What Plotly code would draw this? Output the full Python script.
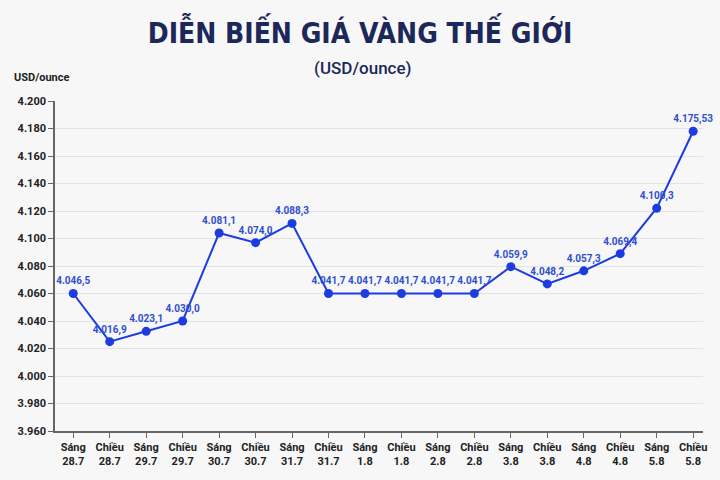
import plotly.graph_objects as go

sessions = ["Sáng", "Chiều"] * 9
dates = ["28.7", "28.7", "29.7", "29.7", "30.7", "30.7", "31.7", "31.7", "1.8", "1.8",
         "2.8", "2.8", "3.8", "3.8", "4.8", "4.8", "5.8", "5.8"]
categories = [f"{s}<br>{d}" for s, d in zip(sessions, dates)]

# plotted positions as drawn in the reference
values = [4060, 4025, 4032.5, 4040, 4104, 4097, 4111, 4060, 4060, 4060,
          4060, 4060, 4079.5, 4067, 4076.5, 4089, 4122, 4178]
# printed labels
labels = ["4.046,5", "4.016,9", "4.023,1", "4.030,0", "4.081,1", "4.074,0", "4.088,3",
          "4.041,7", "4.041,7", "4.041,7", "4.041,7", "4.041,7", "4.059,9", "4.048,2",
          "4.057,3", "4.069,4", "4.100,3", "4.175,53"]

y_ticks = [3960, 3980, 4000, 4020, 4040, 4060, 4080, 4100, 4120, 4140, 4160, 4180, 4200]
y_tick_text = ["3.960", "3.980", "4.000", "4.020", "4.040", "4.060", "4.080", "4.100",
               "4.120", "4.140", "4.160", "4.180", "4.200"]

BLUE = "#1c3ce0"
NAVY = "#1b2859"
L, R, T, B = 55, 17, 101, 44

fig = go.Figure()
fig.add_trace(go.Scatter(
    x=list(range(len(categories))), y=values, mode="lines+markers+text",
    line=dict(color=BLUE, width=2),
    marker=dict(color=BLUE, size=9),
    text=labels, textposition="top center",
    textfont=dict(family="Roboto", size=10, color="#2f4fd0", weight="bold"),
    cliponaxis=False, showlegend=False,
))

ph = 480 - T - B
pw = 720 - L - R
fig.update_layout(
    width=720, height=480,
    paper_bgcolor="#f7f7f8", plot_bgcolor="#f7f7f8",
    margin=dict(l=L, r=R, t=T, b=B),
    title=dict(text="DIỄN BIẾN GIÁ VÀNG THẾ GIỚI", x=0.5, xanchor="center",
               y=1 - 33 / 480, yanchor="middle",
               font=dict(family="Liberation Sans Narrow, DejaVu Sans Condensed, Roboto Condensed, Roboto",
                         size=28, color=NAVY, weight="bold")),
    annotations=[
        dict(text="(USD/ounce)", xref="paper", yref="paper",
             x=(363 - L) / pw, y=(480 - B - 68) / ph, xanchor="center", yanchor="middle",
             showarrow=False, font=dict(family="Roboto", size=17, color=NAVY, weight=500)),
        dict(text="USD/ounce", xref="paper", yref="paper",
             x=(12 - L) / pw, y=(480 - B - 77) / ph, xanchor="left", yanchor="middle",
             showarrow=False, font=dict(family="Roboto", size=11, color="#222222", weight="bold")),
    ],
)

fig.update_xaxes(
    tickmode="array", tickvals=list(range(len(categories))), ticktext=categories,
    range=[-0.5, 17.27], showgrid=False, zeroline=False,
    showline=True, linecolor="#666666", linewidth=1.5,
    ticks="outside", ticklen=5, tickcolor="#666666",
    tickfont=dict(family="Roboto", size=11, color="#222222", weight="bold"),
)
fig.update_yaxes(
    range=[3960, 4200], tickmode="array", tickvals=y_ticks, ticktext=y_tick_text,
    showgrid=True, gridcolor="#e3e3e6", gridwidth=1, zeroline=False,
    showline=True, linecolor="#666666", linewidth=1.5,
    ticks="outside", ticklen=5, tickcolor="#666666",
    tickfont=dict(family="Roboto", size=11, color="#222222", weight="bold"),
)

fig.write_html("out.html", config={"displayModeBar": False},
               post_script="document.body.style.margin='0';document.body.style.overflow='hidden';")
